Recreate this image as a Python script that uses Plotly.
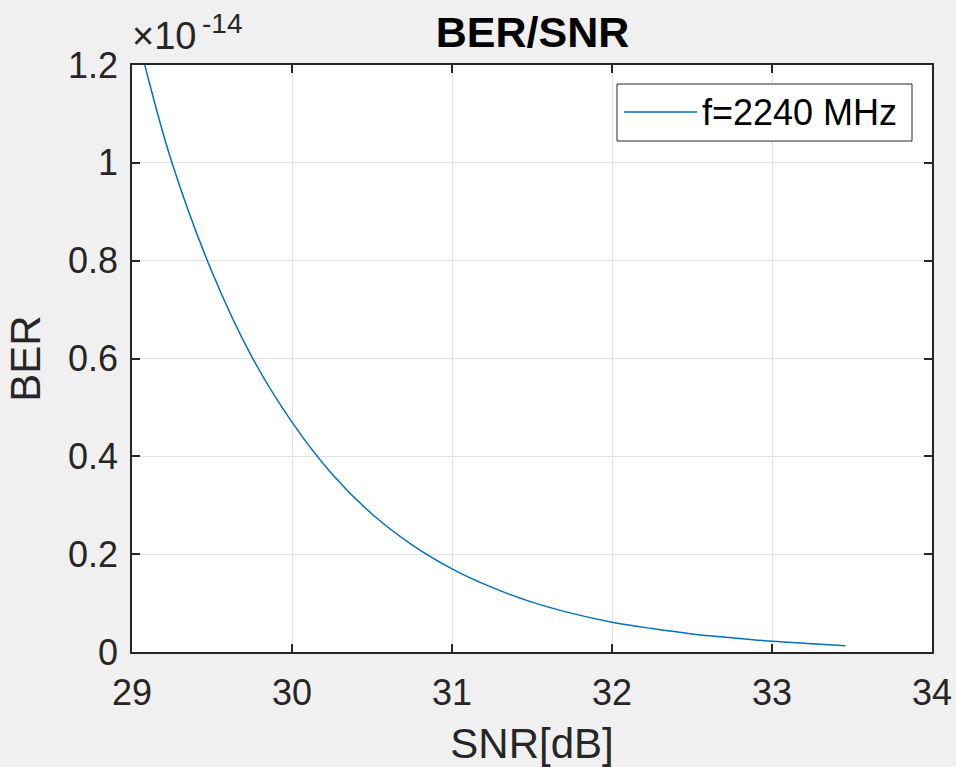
import plotly.graph_objects as go

# SNR in dB and BER (in units of 1e-14)
snr_db = [29.08, 29.25, 29.5, 29.75, 30.0, 30.25, 30.5, 30.75, 31.0, 31.25,
          31.5, 31.75, 32.0, 32.25, 32.5, 32.75, 33.0, 33.25, 33.46]
ber_e14 = [1.2, 1.0, 0.777, 0.603, 0.470, 0.364, 0.282, 0.219, 0.170, 0.132,
           0.102, 0.079, 0.061, 0.048, 0.037, 0.029, 0.022, 0.017, 0.013]
series_name = "f=2240 MHz"
x_ticks = [29, 30, 31, 32, 33, 34]
y_ticks = [0, 0.2, 0.4, 0.6, 0.8, 1.0, 1.2]
y_tick_text = ["0", "0.2", "0.4", "0.6", "0.8", "1", "1.2"]

FONT = "Liberation Sans, Arial, sans-serif"
AX = "#262626"
GRID = "#e1e1e1"
LINE_COLOR = "#0072BD"

fig = go.Figure()
fig.add_trace(go.Scatter(x=snr_db, y=ber_e14, mode="lines", name=series_name,
                         showlegend=False,
                         line=dict(color=LINE_COLOR, width=1.5, shape="spline", smoothing=1.0)))

axis_common = dict(showline=True, linecolor=AX, linewidth=1.5, mirror="ticks",
                   ticks="inside", ticklen=8, tickcolor=AX, tickwidth=1.5,
                   showgrid=True, gridcolor=GRID, gridwidth=1, zeroline=False,
                   automargin=False,
                   tickfont=dict(family=FONT, size=36, color=AX))

fig.update_layout(
    width=956, height=767,
    margin=dict(l=132, r=24, t=65, b=115),
    paper_bgcolor="#f0f0f0", plot_bgcolor="white",
    title=dict(text="<b>BER/SNR</b>", x=0.557, xanchor="center", y=0.958, yanchor="middle",
               font=dict(family=FONT, size=43, color="black")),
    xaxis=dict(range=[29, 34], tickvals=x_ticks, ticklabelstandoff=8,
               title=dict(text="SNR[dB]", font=dict(family=FONT, size=42, color=AX), standoff=26),
               **axis_common),
    yaxis=dict(range=[0, 1.2], tickvals=y_ticks, ticktext=y_tick_text, ticklabelstandoff=5,
               title=dict(text="BER", font=dict(family=FONT, size=42, color=AX), standoff=14),
               **axis_common),
    showlegend=False,
)

# Legend box (MATLAB style: long line sample)
fig.add_shape(type="rect", xref="paper", yref="paper", x0=0.60625, x1=0.975, y0=0.8705, y1=0.9676,
              line=dict(color=AX, width=1), fillcolor="white", layer="above")
fig.add_shape(type="line", xref="paper", yref="paper", x0=0.615, x1=0.70625, y0=0.9199, y1=0.9199,
              line=dict(color=LINE_COLOR, width=1.5), layer="above")
fig.add_annotation(xref="paper", yref="paper", x=0.71, y=0.9199, xanchor="left", yanchor="middle",
                   text=series_name, showarrow=False,
                   font=dict(family=FONT, size=36, color="black"))

fig.add_annotation(xref="paper", yref="paper", x=0.0, y=1.0, xanchor="left", yanchor="bottom",
                   text="×10", showarrow=False, yshift=6, xshift=-2,
                   font=dict(family=FONT, size=38, color=AX))
fig.add_annotation(xref="paper", yref="paper", x=0.0, y=1.0, xanchor="left", yanchor="bottom",
                   text="-14", showarrow=False, yshift=24, xshift=68,
                   font=dict(family=FONT, size=28, color=AX))

fig.write_html("out.html")
